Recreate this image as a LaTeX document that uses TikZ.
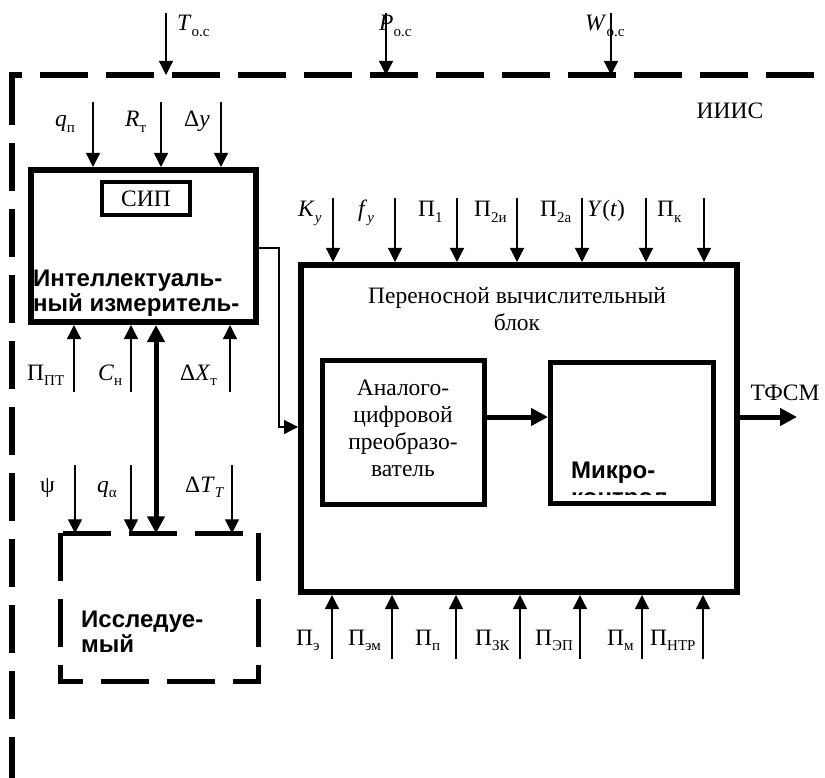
\documentclass[tikz,border=0pt]{standalone}
\usepackage{fontspec}
\setmainfont{Liberation Serif}
\setsansfont{Liberation Sans}
\usetikzlibrary{arrows.meta}
\newcommand\mysub[1]{\raisebox{-0.22em}{\fontsize{15}{15}\selectfont #1}}
\begin{document}
\begin{tikzpicture}[x=1pt,y=-1pt,
  every node/.style={font=\fontsize{23.5}{27}\selectfont, inner sep=0pt},
  sansb/.style={font=\sffamily\bfseries\fontsize{24}{25}\selectfont},
  box/.style={draw, line width=6pt, inner sep=0pt},
  arr/.style={line width=1.3pt, -{Triangle[width=14pt,length=14pt]}},
  thk/.style={line width=5pt, -{Triangle[width=17pt,length=17pt]}},
  dbl/.style={line width=5pt, {Triangle[width=17pt,length=17pt]}-{Triangle[width=17pt,length=17pt]}},
  dsh/.style={line width=5pt, dash pattern=on 48pt off 18pt},
  lbl/.style={anchor=base west}]
\useasboundingbox (0,0) rectangle (825,778);

% outer dashed frame
\coordinate (fbl) at (12,778);
\coordinate (ftl) at (12,72);
\coordinate (fl) at (9,75);
\coordinate (fr) at (825,75);
\draw[line width=6pt, dash pattern=on 48pt off 18pt, dash phase=7pt] (fbl) -- (ftl);
\draw[line width=6pt, dash pattern=on 48pt off 18pt, dash phase=35pt] (fl) -- (fr);

% environment inputs
\coordinate (aT) at (166,13);
\coordinate (aP) at (386,13);
\coordinate (aW) at (611,13);
\draw[arr] (aT) -- (aT |- fr);
\draw[arr] (aP) -- (aP |- fr);
\draw[arr] (aW) -- (aW |- fr);
\node[lbl] (lT) at (177,31) {\textit{T}\mysub{о.с}};
\node[lbl] (lP) at (379,31) {\textit{P}\mysub{о.с}};
\node[lbl] (lW) at (585,31) {\textit{W}\mysub{о.с}};

\node (iiis) at (730,111) {ИИИС};

% intelligent meter
\node[box, minimum width=225pt, minimum height=152pt] (iim) at (143.5,246) {};
\node[box, line width=4.5pt, minimum width=88pt, minimum height=33pt] (sip) at (146,198.5) {СИП};
\node[sansb, align=left, anchor=west] (iimtxt) at (33,293) {Интеллектуаль-\\ный измеритель-};

\coordinate (iq) at (93,102);
\coordinate (iR) at (161,102);
\coordinate (iD) at (221,102);
\draw[arr] (iq) -- (iq |- iim.north);
\draw[arr] (iR) -- (iR |- iim.north);
\draw[arr] (iD) -- (iD |- iim.north);
\node[lbl] (lq) at (55,127) {\textit{q}\mysub{п}};
\node[lbl] (lR) at (125,127) {\textit{R}\mysub{т}};
\node[lbl] (lDy) at (184,127) {Δ\textit{y}};

\coordinate (bP) at (74,392);
\coordinate (bC) at (131,392);
\coordinate (bX) at (230,392);
\draw[arr] (bP) -- (bP |- iim.south);
\draw[arr] (bC) -- (bC |- iim.south);
\draw[arr] (bX) -- (bX |- iim.south);
\node[lbl] (lPPT) at (27,380) {Π\mysub{ПТ}};
\node[lbl] (lCn) at (98,380) {\textit{C}\mysub{н}};
\node[lbl] (lDX) at (180,380) {Δ\textit{X}\mysub{т}};

% object under study
\node[minimum width=198pt, minimum height=148pt, inner sep=0pt] (dut) at (159.5,607.5) {};
\draw[dsh, dash phase=63.5pt] (dut.north west) -- (dut.north east);
\draw[dsh, dash phase=23pt] ([xshift=-2.5pt]dut.south west) -- ([xshift=2.5pt]dut.south east);
\draw[dsh] (dut.north west) -- ([yshift=-2.5pt]dut.south west);
\draw[dsh] (dut.north east) -- ([yshift=-2.5pt]dut.south east);
\node[sansb, align=left, anchor=west] (duttxt) at (81,632) {Исследуе-\\мый};

\coordinate (dx) at (156,0);
\draw[dbl] (iim.south -| dx) -- (dut.north -| dx);

\coordinate (cpsi) at (75,465);
\coordinate (cqa) at (131,465);
\coordinate (cDT) at (232,465);
\draw[arr] (cpsi) -- (cpsi |- dut.north);
\draw[arr] (cqa) -- (cqa |- dut.north);
\draw[arr] (cDT) -- (cDT |- dut.north);
\node[lbl] (lpsi) at (40,492) {ψ};
\node[lbl] (lqa) at (97,492) {\textit{q}\mysub{α}};
\node[lbl] (lDT) at (185,492) {Δ\textit{T}\mysub{\textit{T}}};

% portable computing block
\node[box, minimum width=436pt, minimum height=327pt] (pvb) at (519,428.5) {};
\node[align=center] (pvbt) at (517,309) {Переносной вычислительный\\блок};
\node[box, line width=5pt, minimum width=162pt, minimum height=144pt] (adc) at (403.5,432.5) {};
\node[align=center] (adctxt) at (403,428) {Аналого-\\цифровой\\преобразо-\\ватель};
\node[box, line width=5pt, minimum width=163pt, minimum height=141pt] (mc) at (632,433) {};
\node[sansb, anchor=base west] (mctxt) at (571,478) {Микро-};
\begin{scope}
\clip (560,491) rectangle (705,494);
\node[sansb, anchor=base west] (mctxt2) at (571,505) {контрол-};
\end{scope}

\coordinate (ay) at (0,417);
\draw[thk] (adc.east |- ay) -- (mc.west |- ay);
\coordinate (out) at (797,417);
\draw[thk] (pvb.east |- ay) -- (out);
\node (tfsm) at (785,393) {ТФСМ};

% link from meter to block
\coordinate (cj) at (279,427);
\draw[arr] ([yshift=-2pt]iim.east) -| (cj) -- (cj -| pvb.west);

% top inputs of block
\foreach \x/\n in {333/t1,395/t2,457/t3,517/t4,582/t5,646/t6,704/t7}{
  \coordinate (\n) at (\x,198);
  \draw[arr] (\n) -- (\n |- pvb.north);
}
\node[lbl] (lK) at (298,217) {\textit{K}\mysub{\textit{y}}};
\node[lbl] (lf) at (358,217) {\textit{f}\mysub{\textit{y}}};
\node[lbl] (lP1) at (418,217) {Π\mysub{1}};
\node[lbl] (lP2i) at (474,217) {Π\mysub{2и}};
\node[lbl] (lP2a) at (540,217) {Π\mysub{2а}};
\node[lbl] (lY) at (587,217) {\textit{Y}(\textit{t})};
\node[lbl] (lPk) at (657,217) {Π\mysub{к}};

% bottom inputs of block
\foreach \x/\n in {332/b1,392/b2,456/b3,520/b4,580/b5,642/b6,703/b7}{
  \coordinate (\n) at (\x,659);
  \draw[arr] (\n) -- (\n |- pvb.south);
}
\node[lbl] (lPe) at (296,645) {Π\mysub{э}};
\node[lbl] (lPem) at (348,645) {Π\mysub{эм}};
\node[lbl] (lPp) at (415,645) {Π\mysub{п}};
\node[lbl] (lPZK) at (475,645) {Π\mysub{ЗК}};
\node[lbl] (lPEP) at (535,645) {Π\mysub{ЭП}};
\node[lbl] (lPm) at (607,645) {Π\mysub{м}};
\node[lbl] (lPNTR) at (650,645) {Π\mysub{НТР}};
\end{tikzpicture}
\end{document}
